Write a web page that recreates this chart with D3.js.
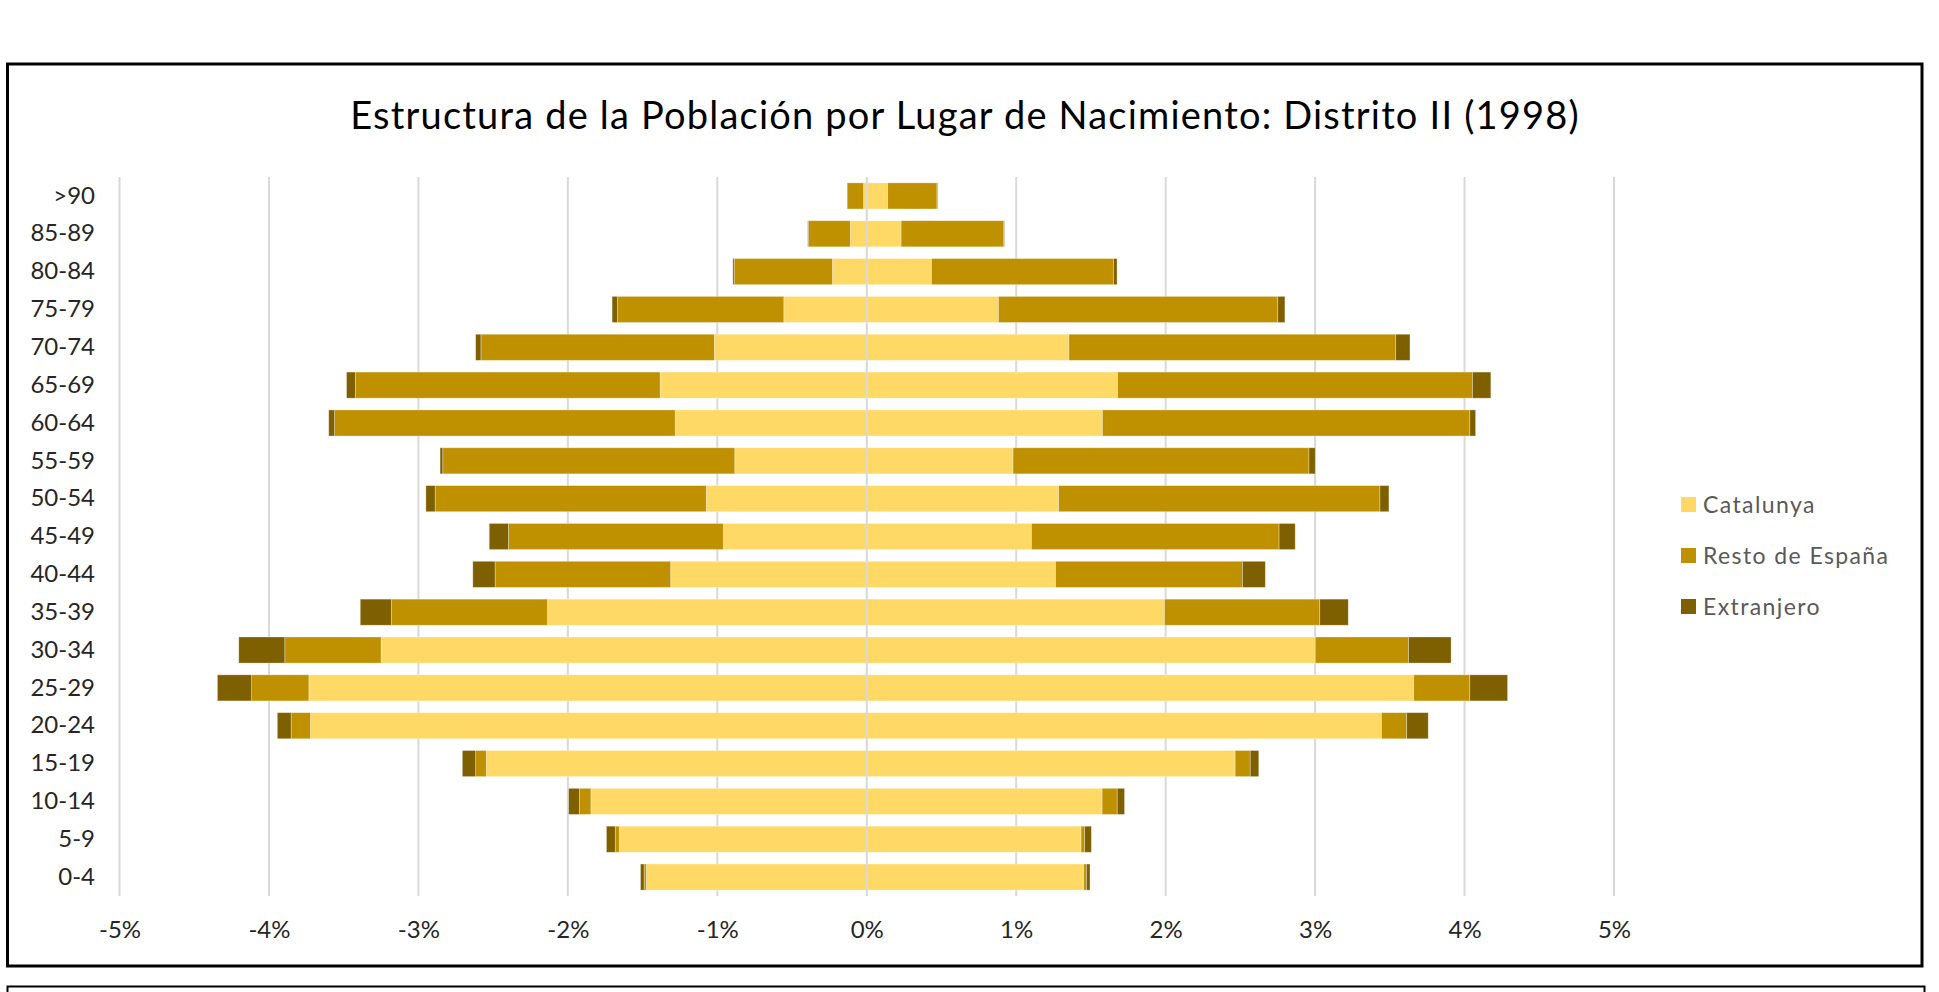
<!DOCTYPE html>
<html>
<head>
<meta charset="utf-8">
<script src="https://cdn.jsdelivr.net/npm/d3@7"></script>
<style>
  body { margin: 0; background: #fff; }
  text { font-family: Lato, "Open Sans", sans-serif; }
</style>
</head>
<body>
<svg id="chart" width="1939" height="992"></svg>
<script>
// grupos de edad, de abajo hacia arriba
const ages = ["0-4","5-9","10-14","15-19","20-24","25-29","30-34","35-39","40-44","45-49",
              "50-54","55-59","60-64","65-69","70-74","75-79","80-84","85-89",">90"];

// lado izquierdo (valores negativos, % del total)
const catIzq   = [-1.475,-1.656,-1.846,-2.546,-3.722,-3.733,-3.250,-2.137,-1.312,-0.960,
                  -1.074,-0.883,-1.282,-1.383,-1.020,-0.555,-0.230,-0.110,-0.021];
const restoIzq = [-0.015,-0.027,-0.077,-0.071,-0.130,-0.383,-0.644,-1.044,-1.175,-1.438,
                  -1.814,-1.954,-2.279,-2.039,-1.562,-1.113,-0.657,-0.280,-0.110];
const extIzq   = [-0.024,-0.059,-0.072,-0.089,-0.092,-0.229,-0.308,-0.208,-0.149,-0.128,
                  -0.062,-0.018,-0.039,-0.059,-0.035,-0.036,-0.009,-0.005,0];

// lado derecho
const catDer   = [1.452,1.434,1.575,2.465,3.444,3.660,3.001,1.992,1.263,1.102,
                  1.284,0.979,1.577,1.678,1.353,0.881,0.433,0.230,0.140];
const restoDer = [0.018,0.024,0.101,0.101,0.169,0.375,0.624,1.039,1.251,1.657,
                  2.150,1.980,2.458,2.375,2.186,1.869,1.218,0.687,0.330];
const extDer   = [0.024,0.045,0.049,0.057,0.144,0.253,0.285,0.191,0.153,0.108,
                  0.060,0.042,0.039,0.123,0.096,0.048,0.024,0.004,0.004];

const xTicks = [-5,-4,-3,-2,-1,0,1,2,3,4,5];
const seriesNames = ["Catalunya", "Resto de España", "Extranjero"];
const seriesColors = ["#FFD966", "#BF9000", "#7F6000"];

const title = "Estructura de la Población por Lugar de Nacimiento: Distrito II (1998)";

const svg = d3.select("#chart");

// tabla para d3.stack
const table = ages.map(function(a, i) {
    return {
        age: a,
        catIzq: catIzq[i], restoIzq: restoIzq[i], extIzq: extIzq[i],
        catDer: catDer[i], restoDer: restoDer[i], extDer: extDer[i]
    };
});
const keys = ["catIzq","restoIzq","extIzq","catDer","restoDer","extDer"];
const keyColor = {
    catIzq: seriesColors[0], catDer: seriesColors[0],
    restoIzq: seriesColors[1], restoDer: seriesColors[1],
    extIzq: seriesColors[2], extDer: seriesColors[2]
};

const stacked = d3.stack()
    .keys(keys)
    .offset(d3.stackOffsetDiverging)(table);

const x = d3.scaleLinear().domain([-5, 5]).range([119.5, 1614]);
const y = d3.scaleBand()
    .domain(ages.slice().reverse())
    .range([177, 896])
    .paddingInner(0.31)
    .paddingOuter(0.155);

// marco del gráfico
svg.append("rect")
    .attr("x", 7.5).attr("y", 64)
    .attr("width", 1914.5).attr("height", 902)
    .attr("fill", "#fff")
    .attr("stroke", "#000")
    .attr("stroke-width", 3);

svg.append("rect")
    .attr("x", 7.5).attr("y", 986.5)
    .attr("width", 1917).attr("height", 40)
    .attr("fill", "#fff")
    .attr("stroke", "#000")
    .attr("stroke-width", 2);

svg.append("text")
    .attr("x", 965)
    .attr("y", 129)
    .attr("text-anchor", "middle")
    .style("font-size", "38px")
    .style("letter-spacing", "1.2px")
    .style("fill", "#000")
    .text(title);

// rejilla vertical
svg.append("g")
    .selectAll("line")
    .data(xTicks)
    .enter()
    .append("line")
    .attr("x1", d => x(d)).attr("x2", d => x(d))
    .attr("y1", 177).attr("y2", 896)
    .attr("stroke", "#d9d9d9")
    .attr("stroke-width", 2);

// barras
svg.append("g")
    .selectAll("g")
    .data(stacked)
    .enter()
    .append("g")
    .attr("fill", d => keyColor[d.key])
    .selectAll("rect")
    .data(d => d)
    .enter()
    .append("rect")
    .attr("x", d => x(Math.min(d[0], d[1])))
    .attr("y", d => y(d.data.age))
    .attr("width", d => Math.abs(x(d[1]) - x(d[0])))
    .attr("height", y.bandwidth())
    .attr("stroke", "#fff")
    .attr("stroke-opacity", 0.4)
    .attr("stroke-width", 0.8);

// línea del 0 por encima de las barras
svg.append("line")
    .attr("x1", x(0)).attr("x2", x(0))
    .attr("y1", 177).attr("y2", 896)
    .attr("stroke", "#d9d9d9")
    .attr("stroke-width", 1.5);

// eje X
const xAxis = svg.append("g")
    .attr("transform", "translate(0,896)")
    .call(d3.axisBottom(x)
        .tickValues(xTicks)
        .tickSize(0)
        .tickPadding(25)
        .tickFormat(d => d + "%"));
xAxis.select(".domain").remove();
xAxis.selectAll("text")
    .style("font-family", "Lato, sans-serif")
    .style("font-size", "24px")
    .style("fill", "#262626");

// eje Y
const yAxis = svg.append("g")
    .attr("transform", "translate(95,0)")
    .call(d3.axisLeft(y).tickSize(0).tickPadding(0));
yAxis.select(".domain").remove();
yAxis.selectAll("text")
    .style("font-family", "Lato, sans-serif")
    .style("font-size", "24px")
    .style("fill", "#262626");

// leyenda
const legend = svg.append("g")
    .selectAll("g.legend")
    .data(seriesNames)
    .enter()
    .append("g")
    .attr("class", "legend")
    .attr("transform", (d, i) => "translate(1681," + (504.5 + i * 51) + ")");

legend.append("rect")
    .attr("x", 0).attr("y", -7.5)
    .attr("width", 15).attr("height", 15)
    .style("fill", (d, i) => seriesColors[i]);

legend.append("text")
    .attr("x", 22)
    .attr("y", 8)
    .style("font-size", "23px")
    .style("letter-spacing", "1.4px")
    .style("fill", "#595959")
    .text(d => d);
</script>
</body>
</html>
